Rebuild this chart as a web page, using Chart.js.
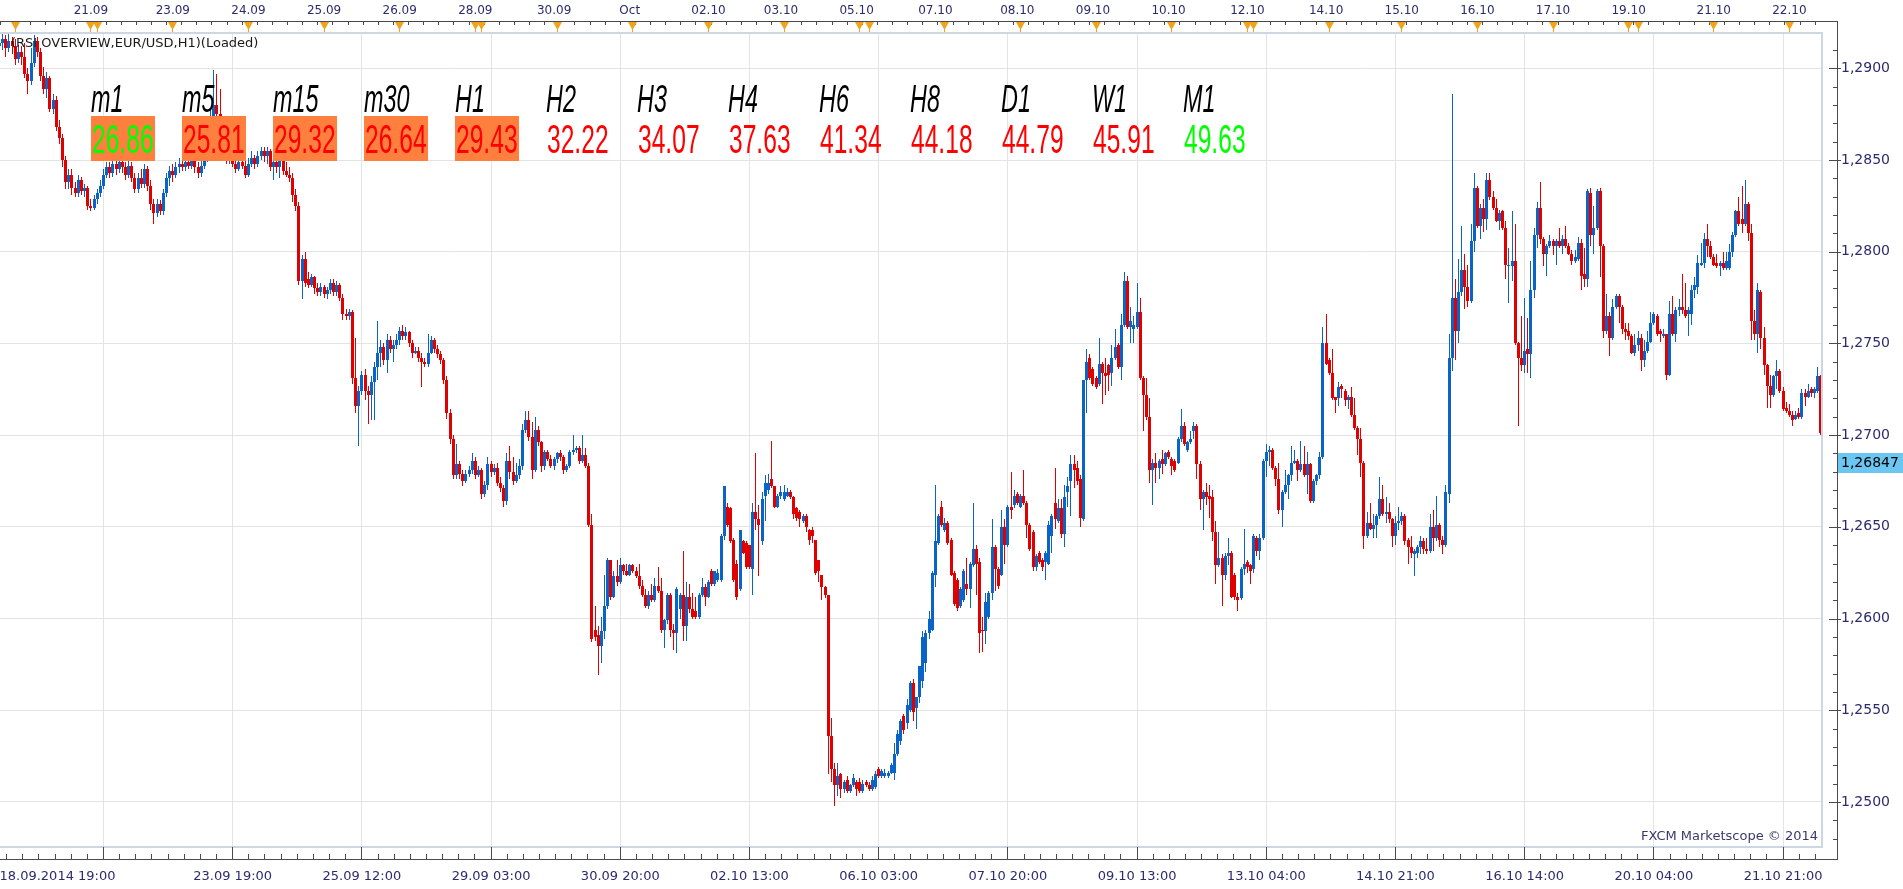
<!DOCTYPE html>
<html lang="en">
<head>
<meta charset="UTF-8">
<title>EUR/USD H1 - RSI Overview</title>
<script src="https://cdn.jsdelivr.net/npm/chart.js"></script>
<style>
  html, body { margin: 0; padding: 0; background: #ffffff; overflow: hidden; }
  canvas { display: block; }
</style>
</head>
<body>
<canvas id="chart" width="1903" height="889"></canvas>
<script>
// EUR/USD hourly candles, 18.09.2014 19:00 onwards, in pips: [open, high, low, close]
const candles = [
  [12912,12918,12908,12914],[12914,12919,12910,12916],[12916,12918,12906,12911],[12911,12919,12909,12915],[12915,12917,12908,12912],[12912,12916,12902,12905],
  [12905,12913,12903,12909],[12909,12912,12902,12906],[12906,12914,12895,12897],[12897,12900,12886,12893],[12893,12911,12891,12903],[12903,12918,12901,12915],
  [12915,12917,12906,12909],[12909,12911,12893,12896],[12896,12901,12886,12889],[12889,12898,12884,12895],[12895,12896,12876,12878],[12878,12886,12875,12883],
  [12883,12885,12866,12868],[12868,12872,12859,12862],[12862,12864,12846,12850],[12850,12852,12834,12838],[12838,12845,12834,12842],[12842,12845,12831,12835],
  [12835,12838,12830,12832],[12832,12842,12830,12839],[12839,12841,12831,12833],[12833,12837,12830,12835],[12835,12836,12823,12825],[12825,12829,12822,12824],
  [12824,12831,12823,12829],[12829,12834,12826,12832],[12832,12839,12830,12836],[12836,12845,12834,12842],[12842,12849,12840,12846],[12846,12849,12840,12843],
  [12843,12851,12841,12848],[12848,12851,12842,12845],[12845,12852,12843,12849],[12849,12852,12843,12846],[12846,12849,12839,12842],[12842,12850,12840,12847],
  [12847,12849,12838,12840],[12840,12843,12832,12834],[12834,12843,12832,12840],[12840,12845,12835,12837],[12837,12848,12835,12845],[12845,12847,12833,12836],
  [12836,12839,12823,12826],[12826,12829,12815,12821],[12821,12829,12819,12826],[12826,12828,12820,12822],[12822,12834,12820,12832],[12832,12843,12830,12840],
  [12840,12847,12836,12844],[12844,12848,12838,12842],[12842,12849,12840,12846],[12846,12851,12843,12848],[12848,12851,12844,12846],[12846,12852,12844,12849],
  [12849,12852,12845,12847],[12847,12853,12845,12850],[12850,12852,12843,12846],[12846,12849,12840,12843],[12843,12850,12841,12847],[12847,12855,12845,12851],
  [12851,12862,12849,12860],[12860,12878,12858,12872],[12872,12899,12868,12880],[12880,12897,12872,12875],[12875,12889,12865,12868],[12868,12872,12855,12860],
  [12860,12863,12848,12852],[12852,12858,12848,12855],[12855,12857,12846,12848],[12848,12851,12843,12845],[12845,12852,12844,12849],[12849,12851,12845,12847],
  [12847,12850,12840,12842],[12842,12851,12841,12848],[12848,12855,12846,12851],[12851,12853,12845,12848],[12848,12855,12846,12852],[12852,12857,12850,12855],
  [12855,12857,12849,12852],[12852,12857,12848,12855],[12855,12856,12844,12846],[12846,12851,12839,12849],[12849,12851,12843,12846],[12846,12853,12840,12851],
  [12851,12853,12842,12844],[12844,12849,12841,12842],[12842,12846,12838,12840],[12840,12843,12827,12831],[12831,12834,12822,12825],[12825,12827,12782,12784],
  [12784,12798,12774,12796],[12796,12800,12781,12783],[12785,12789,12780,12782],[12782,12788,12781,12786],[12786,12787,12777,12780],[12780,12783,12776,12778],
  [12778,12783,12776,12781],[12781,12782,12775,12777],[12777,12781,12774,12779],[12779,12785,12777,12783],[12783,12785,12776,12778],[12778,12784,12776,12782],
  [12782,12783,12773,12775],[12775,12777,12763,12766],[12766,12769,12763,12765],[12765,12769,12763,12767],[12767,12768,12728,12731],[12731,12753,12712,12716],
  [12716,12727,12694,12724],[12724,12735,12722,12733],[12733,12736,12719,12724],[12724,12727,12706,12722],[12722,12732,12708,12729],[12729,12740,12708,12737],
  [12737,12762,12730,12745],[12745,12752,12737,12748],[12748,12750,12738,12741],[12741,12755,12734,12752],[12752,12754,12745,12747],[12747,12752,12740,12749],
  [12749,12755,12747,12752],[12752,12759,12749,12757],[12757,12760,12752,12754],[12754,12759,12752,12756],[12756,12757,12748,12750],[12750,12752,12742,12745],
  [12745,12748,12744,12746],[12746,12748,12740,12742],[12742,12745,12726,12740],[12740,12742,12737,12739],[12739,12755,12737,12745],[12745,12754,12744,12752],
  [12752,12753,12745,12747],[12747,12749,12742,12744],[12744,12746,12739,12741],[12741,12742,12728,12730],[12730,12732,12709,12712],[12712,12714,12695,12698],
  [12698,12700,12676,12678],[12678,12695,12676,12684],[12684,12686,12676,12679],[12679,12681,12672,12675],[12675,12681,12674,12679],[12679,12683,12677,12681],
  [12681,12690,12679,12686],[12686,12688,12676,12678],[12678,12683,12677,12681],[12681,12682,12665,12668],[12668,12675,12666,12673],[12673,12688,12670,12684],
  [12684,12686,12677,12680],[12680,12684,12678,12682],[12682,12685,12672,12674],[12674,12677,12669,12671],[12671,12673,12661,12664],[12664,12690,12662,12686],
  [12686,12694,12676,12680],[12680,12688,12673,12675],[12675,12685,12674,12678],[12678,12687,12676,12683],[12683,12706,12681,12703],[12703,12713,12701,12708],
  [12708,12713,12697,12699],[12699,12707,12676,12681],[12681,12710,12680,12703],[12703,12705,12694,12696],[12696,12697,12680,12683],[12683,12692,12681,12691],
  [12691,12692,12686,12687],[12687,12689,12682,12683],[12683,12688,12681,12687],[12687,12691,12685,12690],[12690,12692,12686,12688],[12688,12689,12679,12681],
  [12681,12684,12680,12683],[12683,12692,12682,12691],[12691,12700,12689,12692],[12692,12694,12690,12693],[12693,12694,12684,12686],[12686,12700,12685,12689],
  [12689,12693,12682,12683],[12683,12685,12650,12651],[12651,12657,12587,12589],[12594,12607,12588,12590],[12591,12596,12569,12585],[12585,12601,12576,12593],
  [12593,12624,12589,12607],[12607,12633,12605,12632],[12632,12632,12610,12612],[12612,12626,12611,12623],[12623,12632,12618,12620],[12620,12633,12619,12629],
  [12629,12630,12624,12626],[12626,12630,12623,12624],[12624,12630,12623,12629],[12629,12630,12625,12626],[12626,12628,12622,12623],[12623,12630,12616,12618],
  [12618,12621,12612,12613],[12613,12616,12606,12607],[12607,12615,12605,12613],[12613,12619,12609,12610],[12610,12622,12609,12618],[12618,12628,12614,12615],
  [12615,12622,12592,12594],[12594,12600,12584,12599],[12599,12614,12597,12613],[12613,12614,12590,12594],[12594,12597,12583,12592],[12592,12617,12581,12616],
  [12605,12614,12600,12613],[12613,12637,12588,12596],[12596,12620,12588,12612],[12612,12619,12603,12605],[12605,12614,12600,12601],[12604,12612,12600,12601],
  [12601,12614,12600,12613],[12613,12622,12612,12617],[12617,12619,12607,12612],[12612,12621,12611,12620],[12626,12627,12618,12619],[12619,12626,12618,12626],
  [12621,12627,12620,12625],[12621,12646,12620,12645],[12645,12672,12643,12672],[12661,12663,12650,12651],[12660,12661,12641,12642],[12643,12644,12620,12621],
  [12630,12632,12610,12612],[12616,12648,12615,12648],[12642,12643,12635,12636],[12641,12642,12627,12628],[12640,12640,12627,12628],[12627,12663,12613,12658],
  [12658,12690,12648,12654],[12654,12662,12623,12651],[12642,12669,12640,12665],[12667,12678,12653,12674],[12670,12679,12668,12674],[12676,12697,12671,12672],
  [12672,12672,12660,12661],[12661,12668,12660,12667],[12667,12672,12665,12669],[12665,12673,12664,12669],[12667,12671,12666,12669],[12669,12670,12665,12666],
  [12666,12667,12654,12657],[12660,12661,12653,12655],[12658,12659,12650,12654],[12653,12657,12652,12656],[12656,12657,12647,12650],[12648,12649,12640,12643],
  [12648,12650,12641,12645],[12643,12643,12624,12625],[12632,12632,12620,12626],[12624,12624,12610,12617],[12617,12618,12611,12613],[12613,12613,12515,12536],
  [12536,12546,12511,12518],[12518,12521,12498,12509],[12509,12521,12503,12514],[12515,12516,12502,12507],[12507,12512,12505,12511],[12512,12514,12505,12506],
  [12506,12510,12505,12509],[12509,12515,12508,12513],[12511,12512,12503,12507],[12511,12513,12505,12506],[12506,12512,12505,12510],[12511,12512,12508,12509],
  [12509,12511,12506,12507],[12507,12514,12506,12512],[12508,12517,12507,12515],[12518,12519,12513,12514],[12514,12518,12513,12517],[12514,12518,12513,12516],
  [12514,12517,12513,12516],[12516,12521,12515,12520],[12516,12532,12512,12526],[12526,12539,12525,12537],[12533,12545,12531,12544],[12547,12548,12537,12539],
  [12543,12556,12540,12553],[12550,12566,12549,12565],[12565,12567,12544,12549],[12551,12557,12540,12557],[12557,12574,12554,12574],[12566,12593,12562,12590],
  [12576,12594,12571,12592],[12592,12604,12589,12600],[12594,12626,12593,12625],[12624,12673,12617,12642],[12641,12657,12640,12656],[12661,12664,12650,12651],
  [12648,12655,12647,12652],[12652,12653,12640,12641],[12643,12644,12623,12624],[12625,12626,12607,12608],[12621,12622,12604,12606],[12607,12617,12606,12616],
  [12610,12627,12609,12626],[12619,12633,12613,12616],[12616,12631,12606,12630],[12629,12663,12628,12638],[12638,12640,12613,12630],[12631,12633,12581,12592],
  [12594,12601,12582,12593],[12593,12614,12586,12609],[12601,12615,12600,12614],[12614,12654,12610,12639],[12639,12640,12615,12627],[12627,12628,12616,12618],
  [12624,12659,12623,12650],[12650,12654,12630,12640],[12640,12662,12639,12661],[12661,12680,12654,12659],[12662,12670,12660,12667],[12668,12669,12662,12663],
  [12661,12668,12660,12667],[12667,12681,12662,12663],[12663,12664,12644,12651],[12651,12652,12637,12638],[12647,12648,12626,12628],[12628,12635,12626,12634],
  [12636,12637,12630,12631],[12632,12633,12626,12628],[12631,12637,12621,12636],[12630,12653,12629,12651],[12645,12657,12636,12656],[12663,12682,12649,12654],
  [12653,12665,12652,12660],[12660,12665,12644,12646],[12646,12673,12639,12666],[12669,12677,12661,12672],[12675,12689,12656,12684],[12684,12689,12671,12681],
  [12682,12686,12673,12675],[12676,12678,12650,12655],[12654,12730,12653,12730],[12730,12747,12712,12740],[12742,12744,12730,12731],[12736,12737,12727,12728],
  [12731,12732,12725,12726],[12728,12753,12727,12739],[12739,12740,12717,12734],[12734,12742,12722,12732],[12738,12739,12724,12733],[12734,12749,12727,12742],
  [12742,12758,12741,12748],[12749,12750,12736,12737],[12737,12766,12730,12760],[12760,12789,12759,12784],[12784,12787,12758,12759],[12759,12770,12750,12762],
  [12758,12765,12750,12760],[12759,12783,12758,12767],[12767,12775,12730,12731],[12731,12732,12702,12722],[12722,12731,12708,12710],[12710,12720,12674,12681],
  [12681,12687,12662,12685],[12685,12690,12674,12682],[12682,12687,12676,12686],[12687,12692,12679,12684],[12684,12691,12683,12690],[12691,12692,12687,12688],
  [12687,12688,12678,12683],[12686,12687,12680,12681],[12685,12699,12684,12698],[12698,12714,12696,12705],[12705,12707,12694,12695],[12692,12697,12691,12696],
  [12696,12702,12695,12698],[12702,12707,12698,12705],[12705,12706,12676,12684],[12684,12686,12659,12665],[12665,12670,12648,12669],[12669,12674,12662,12666],
  [12667,12673,12655,12665],[12666,12670,12642,12647],[12647,12653,12619,12629],[12629,12647,12628,12633],[12633,12635,12607,12624],[12624,12636,12621,12634],
  [12634,12644,12629,12636],[12636,12637,12611,12612],[12624,12625,12610,12612],[12612,12614,12604,12610],[12611,12628,12610,12627],[12627,12649,12624,12630],
  [12631,12632,12625,12628],[12629,12630,12619,12626],[12627,12646,12625,12645],[12644,12645,12634,12637],[12637,12646,12632,12644],[12644,12687,12643,12686],
  [12686,12695,12677,12691],[12691,12694,12683,12692],[12692,12693,12681,12682],[12682,12683,12672,12676],[12676,12685,12657,12659],[12659,12670,12650,12669],
  [12669,12681,12668,12673],[12673,12679,12665,12678],[12678,12694,12675,12685],[12685,12692,12684,12686],[12686,12687,12675,12681],[12681,12697,12680,12684],
  [12684,12694,12677,12678],[12678,12691,12668,12684],[12684,12685,12663,12664],[12664,12676,12663,12675],[12675,12679,12673,12678],[12678,12691,12676,12688],
  [12688,12759,12687,12750],[12750,12766,12738,12739],[12741,12742,12733,12734],[12734,12747,12719,12720],[12721,12721,12712,12719],[12720,12729,12716,12726],
  [12727,12728,12720,12725],[12724,12725,12716,12719],[12719,12722,12714,12721],[12721,12726,12710,12711],[12711,12720,12703,12704],[12704,12705,12689,12698],
  [12698,12704,12677,12685],[12685,12686,12638,12645],[12645,12658,12644,12652],[12652,12663,12648,12649],[12649,12657,12644,12651],[12651,12657,12644,12656],
  [12656,12677,12654,12665],[12665,12673,12656,12657],[12657,12666,12652,12658],[12658,12663,12652,12654],[12654,12655,12639,12645],[12645,12656,12640,12652],
  [12652,12661,12648,12653],[12653,12658,12651,12656],[12656,12657,12640,12642],[12643,12644,12630,12639],[12639,12645,12633,12636],[12635,12638,12623,12637],
  [12636,12640,12633,12639],[12639,12645,12635,12642],[12642,12644,12635,12638],[12638,12644,12635,12637],[12637,12657,12636,12650],[12650,12659,12637,12644],
  [12644,12667,12642,12651],[12651,12652,12639,12643],[12643,12645,12635,12640],[12640,12673,12639,12669],[12668,12755,12663,12742],[12742,12886,12735,12775],
  [12775,12785,12741,12757],[12757,12796,12750,12778],[12778,12814,12776,12790],[12790,12799,12769,12781],[12781,12793,12770,12773],[12773,12815,12772,12806],
  [12806,12843,12800,12835],[12835,12836,12813,12814],[12814,12826,12807,12824],[12824,12829,12811,12818],[12818,12843,12812,12839],[12839,12843,12828,12830],
  [12830,12833,12823,12824],[12824,12829,12816,12817],[12817,12823,12812,12821],[12822,12823,12812,12813],[12813,12817,12785,12793],[12792,12802,12772,12793],
  [12792,12822,12784,12795],[12795,12815,12749,12750],[12750,12751,12705,12742],[12742,12765,12735,12738],[12738,12775,12734,12746],[12747,12764,12734,12744],
  [12744,12795,12731,12779],[12779,12813,12775,12809],[12809,12827,12802,12824],[12824,12838,12804,12807],[12807,12808,12792,12799],[12799,12804,12787,12803],
  [12803,12809,12802,12806],[12806,12807,12798,12803],[12803,12807,12793,12806],[12806,12813,12802,12803],[12803,12809,12799,12807],[12807,12814,12802,12803],
  [12803,12805,12798,12799],[12799,12801,12793,12795],[12795,12801,12794,12797],[12796,12808,12795,12805],[12805,12807,12779,12787],[12788,12802,12781,12785],
  [12785,12834,12781,12833],[12832,12835,12803,12809],[12809,12825,12799,12813],[12813,12834,12812,12833],[12833,12835,12786,12803],[12803,12804,12753,12757],
  [12757,12777,12755,12765],[12765,12767,12743,12753],[12753,12774,12752,12770],[12770,12777,12769,12776],[12776,12777,12761,12770],[12770,12771,12755,12758],
  [12758,12761,12752,12756],[12757,12761,12752,12754],[12754,12755,12744,12745],[12745,12755,12743,12749],[12749,12757,12746,12753],[12753,12755,12735,12741],
  [12741,12752,12737,12746],[12746,12757,12745,12751],[12751,12767,12750,12761],[12761,12767,12760,12766],[12765,12766,12754,12755],[12757,12758,12751,12755],
  [12754,12758,12753,12755],[12755,12755,12730,12733],[12733,12773,12732,12766],[12766,12776,12754,12755],[12755,12770,12751,12768],[12768,12774,12765,12770],
  [12770,12788,12766,12768],[12768,12783,12764,12765],[12766,12770,12754,12768],[12766,12782,12760,12779],[12779,12786,12775,12782],[12781,12798,12777,12794],
  [12793,12805,12792,12794],[12794,12810,12791,12807],[12807,12815,12797,12803],[12803,12806,12796,12797],[12797,12799,12792,12793],[12794,12799,12791,12792],
  [12792,12795,12787,12794],[12794,12800,12790,12791],[12791,12800,12790,12795],[12791,12804,12790,12800],[12800,12811,12797,12809],[12809,12823,12808,12822],
  [12822,12830,12814,12815],[12818,12836,12810,12815],[12815,12839,12814,12826],[12826,12827,12806,12810],[12810,12815,12752,12762],[12762,12768,12752,12755],
  [12755,12783,12745,12779],[12778,12779,12747,12753],[12753,12759,12733,12738],[12738,12739,12715,12727],[12727,12733,12715,12722],[12722,12733,12721,12732],
  [12732,12741,12725,12735],[12735,12736,12723,12724],[12724,12726,12713,12714],[12715,12718,12712,12713],[12713,12717,12710,12711],[12711,12713,12705,12708],
  [12709,12713,12708,12711],[12712,12715,12709,12710],[12710,12725,12709,12723],[12723,12725,12716,12721],[12721,12728,12720,12724],[12725,12726,12721,12723],
  [12723,12726,12720,12725],[12724,12737,12723,12732],[12732,12733,12700,12701]
];
const PIP = 10000;

// price axis labels
const priceTicks = [1.2500, 1.2550, 1.2600, 1.2650, 1.2700, 1.2750, 1.2800, 1.2850, 1.2900];

// bottom time axis (bar index -> label)
const bottomTickIdx = [0, 33, 74, 115, 156, 197, 238, 279, 320, 361, 402, 443, 484, 525, 566];
const bottomTickText = ['18.09.2014 19:00', '', '23.09 19:00', '25.09 12:00', '29.09 03:00', '30.09 20:00',
  '02.10 13:00', '06.10 03:00', '07.10 20:00', '09.10 13:00', '13.10 04:00', '14.10 21:00',
  '16.10 14:00', '20.10 04:00', '21.10 21:00'];

// top date ruler
const topTickIdx = [29, 55, 79, 103, 127, 151, 176, 200, 225, 248, 272, 297, 323, 347, 371, 396, 421, 445, 469, 493, 517, 544, 568];
const topTickText = ['21.09', '23.09', '24.09', '25.09', '26.09', '28.09', '30.09', 'Oct', '02.10', '03.10', '05.10', '07.10',
  '08.10', '09.10', '10.10', '12.10', '14.10', '15.10', '16.10', '17.10', '19.10', '21.10', '22.10'];
// calendar event markers on the top ruler
const eventIdx = [5, 29, 31, 55, 79, 103, 127, 151, 153, 177, 201, 225, 249, 273, 276, 300, 324, 348, 372, 396, 398, 422, 445, 469, 493, 517, 520, 544, 568];

// RSI overview indicator
const indicatorTitle = '(RSI OVERVIEW,EUR/USD,H1)(Loaded)';
const rsiFrames = ['m1', 'm5', 'm15', 'm30', 'H1', 'H2', 'H3', 'H4', 'H6', 'H8', 'D1', 'W1', 'M1'];
const rsiValues = [26.86, 25.81, 29.32, 26.64, 29.43, 32.22, 34.07, 37.63, 41.34, 44.18, 44.79, 45.91, 49.63];
const rsiRising = [true, false, false, false, false, false, false, false, false, false, false, false, true];

const lastPrice = 1.26847;

const X_MIN = 0.16, X_MAX = 578.36;
const Y_MIN = 1.24754, Y_MAX = 1.29193;
const BULL = '#0a64c8', BEAR = '#e00000';
const AXIS_TEXT = '#2b2b6e';
const GRID = '#e3e3e3';

const candleColor = (i) => candles[i][3] >= candles[i][0] ? BULL : BEAR;

const decor = {
  id: 'decor',
  beforeDatasetsDraw(chart) {
    // snap candles to whole pixels like the original terminal
    chart.data.datasets.forEach((ds, di) => {
      chart.getDatasetMeta(di).data.forEach(el => {
        el.x = Math.floor(el.x) + 0.5;
        el.y = Math.round(el.y);
        el.base = Math.round(el.base);
      });
    });
  },
  afterDatasetsDraw(chart) {
    const ctx = chart.ctx;
    ctx.save();
    ctx.font = '13px "DejaVu Sans"';
    ctx.fillStyle = '#1a1a1a';
    ctx.textBaseline = 'middle';
    ctx.textAlign = 'left';
    ctx.fillText(indicatorTitle, 11, 44);

    ctx.textBaseline = 'alphabetic';
    rsiFrames.forEach((frame, k) => {
      const x = 91 + 91 * k;
      const v = rsiValues[k];
      if (v < 30) {
        ctx.fillStyle = '#ff7f3f';
        ctx.fillRect(x, 116, 64, 45);
      }
      ctx.save();
      ctx.translate(x, 112);
      ctx.scale(0.6, 1);
      ctx.font = 'italic 39px "Liberation Sans"';
      ctx.fillStyle = '#000000';
      ctx.fillText(frame, 0, 0);
      ctx.restore();

      ctx.save();
      ctx.translate(x + 1, 153);
      ctx.scale(0.6, 1);
      ctx.font = '41px "Liberation Sans"';
      ctx.fillStyle = rsiRising[k] ? '#00ff00' : '#ff0000';
      ctx.fillText(v.toFixed(2), 0, 0);
      ctx.restore();
    });
    ctx.restore();
  },
  afterDraw(chart) {
    const { ctx, chartArea: a } = chart;
    const xs = chart.scales.x, ys = chart.scales.y;
    const px = v => Math.floor(xs.getPixelForValue(v));
    ctx.save();

    // plot frame
    ctx.fillStyle = '#cdd7e3';
    ctx.fillRect(0, a.top - 1, a.right + 1, 2);
    ctx.fillRect(a.right - 1, a.top - 1, 2, a.bottom - a.top + 2);
    ctx.fillRect(0, a.bottom - 1, a.right + 1, 2);

    // rulers
    const axisX = a.right + 15;
    ctx.fillStyle = '#4a4a4a';
    ctx.fillRect(0, 21, axisX + 1, 1);
    ctx.fillRect(0, a.bottom + 12, axisX + 1, 1);
    ctx.fillRect(axisX, 21, 1, a.bottom + 12 - 21);

    // top ruler ticks
    for (let v = topTickIdx[0] - 4.8 * 6; v <= X_MAX; v += 4.8) {
      if (v < X_MIN) continue;
      ctx.fillRect(px(v), 22, 1, 3);
    }
    // bottom ruler ticks
    for (let v = bottomTickIdx[1] - 5.125 * 6; v <= X_MAX; v += 5.125) {
      if (v < X_MIN) continue;
      ctx.fillRect(px(v), a.bottom + 7, 1, 5);
    }
    bottomTickIdx.slice(1).forEach(v => ctx.fillRect(px(v), a.bottom, 1, 12));
    // price ruler ticks
    for (let m = 1248; m <= 1291; m++) {
      const yy = Math.round(ys.getPixelForValue(m / 1000));
      if (m % 5 === 0) ctx.fillRect(axisX - 8, yy, 12, 1);
      else ctx.fillRect(axisX - 4, yy, 4, 1);
    }

    // event markers
    ctx.fillStyle = '#f2a31b';
    eventIdx.forEach(v => {
      const x0 = px(v) + 0.5;
      ctx.beginPath();
      ctx.moveTo(x0 - 4.5, 22);
      ctx.lineTo(x0 + 4.5, 22);
      ctx.lineTo(x0, 30);
      ctx.closePath();
      ctx.fill();
      ctx.fillRect(x0 - 0.5, 29, 1, 3);
    });

    // last price tag
    const ly = Math.round(ys.getPixelForValue(lastPrice));
    ctx.fillStyle = '#6cc6f2';
    ctx.fillRect(axisX + 1, ly - 10, 1903 - axisX, 20);
    ctx.fillStyle = '#000000';
    ctx.font = '14px "DejaVu Sans"';
    ctx.textBaseline = 'middle';
    ctx.textAlign = 'left';
    ctx.fillText(lastPrice.toFixed(5).replace('.', ','), a.right + 19, ly);

    // watermark
    ctx.font = '13px "DejaVu Sans"';
    ctx.fillStyle = '#3a3a6a';
    ctx.textAlign = 'right';
    ctx.fillText('FXCM Marketscope \u00a9 2014', a.right - 4, a.bottom - 10);
    ctx.restore();
  }
};

Chart.defaults.font.family = '"DejaVu Sans", sans-serif';
Chart.defaults.font.size = 12;

new Chart(document.getElementById('chart'), {
  type: 'bar',
  data: {
    datasets: [
      {
        label: 'High-Low',
        data: candles.map((c, i) => ({ x: i, y: [c[2] / PIP, c[1] / PIP] })),
        barThickness: 1,
        grouped: false,
        borderWidth: 0,
        inflateAmount: 0,
        backgroundColor: (c) => candleColor(c.dataIndex)
      },
      {
        label: 'Open-Close',
        data: candles.map((c, i) => ({ x: i, y: [c[0] / PIP, c[3] / PIP] })),
        barThickness: 3,
        minBarLength: 1,
        grouped: false,
        borderWidth: 0,
        inflateAmount: 0,
        backgroundColor: (c) => candleColor(c.dataIndex)
      }
    ]
  },
  options: {
    responsive: false,
    animation: false,
    devicePixelRatio: 1,
    events: [],
    layout: { padding: 0 },
    plugins: { legend: { display: false }, tooltip: { enabled: false } },
    scales: {
      x: {
        type: 'linear',
        position: 'bottom',
        min: X_MIN,
        max: X_MAX,
        bounds: 'data',
        offset: false,
        afterBuildTicks: (s) => {
          s.ticks = bottomTickIdx.map(v => ({ value: v })).concat([{ value: X_MAX }]);
        },
        afterFit: (s) => { s.height = 42; s.paddingLeft = 0; s.paddingRight = 0; },
        ticks: {
          autoSkip: false,
          maxRotation: 0,
          minRotation: 0,
          align: 'inner',
          padding: 22,
          color: AXIS_TEXT,
          font: { size: 13 },
          callback: (v) => {
            const k = bottomTickIdx.indexOf(v);
            return k < 0 ? '' : bottomTickText[k];
          }
        },
        grid: {
          offset: false,
          drawTicks: false,
          color: (c) => (c.tick && c.tick.value > 1 && c.tick.value < X_MAX - 1) ? GRID : 'rgba(0,0,0,0)'
        },
        border: { display: false }
      },
      xTop: {
        type: 'linear',
        position: 'top',
        min: X_MIN,
        max: X_MAX,
        bounds: 'data',
        offset: false,
        afterBuildTicks: (s) => { s.ticks = topTickIdx.map(v => ({ value: v })); },
        afterFit: (s) => { s.height = 33; s.paddingLeft = 0; s.paddingRight = 0; },
        ticks: {
          autoSkip: false,
          maxRotation: 0,
          minRotation: 0,
          padding: 15,
          color: AXIS_TEXT,
          callback: (v) => {
            const k = topTickIdx.indexOf(v);
            return k < 0 ? '' : topTickText[k];
          }
        },
        grid: { display: false, drawTicks: false, drawOnChartArea: false },
        border: { display: false }
      },
      y: {
        type: 'linear',
        position: 'right',
        min: Y_MIN,
        max: Y_MAX,
        bounds: 'data',
        afterBuildTicks: (s) => { s.ticks = priceTicks.map(v => ({ value: v })); },
        afterFit: (s) => { s.width = 81; s.paddingTop = 0; s.paddingBottom = 0; },
        ticks: {
          autoSkip: false,
          padding: 19,
          color: AXIS_TEXT,
          font: { size: 14 },
          callback: (v) => v.toFixed(4).replace('.', ',')
        },
        grid: { drawTicks: false, color: GRID },
        border: { display: false }
      }
    }
  },
  plugins: [decor]
});
</script>
</body>
</html>
